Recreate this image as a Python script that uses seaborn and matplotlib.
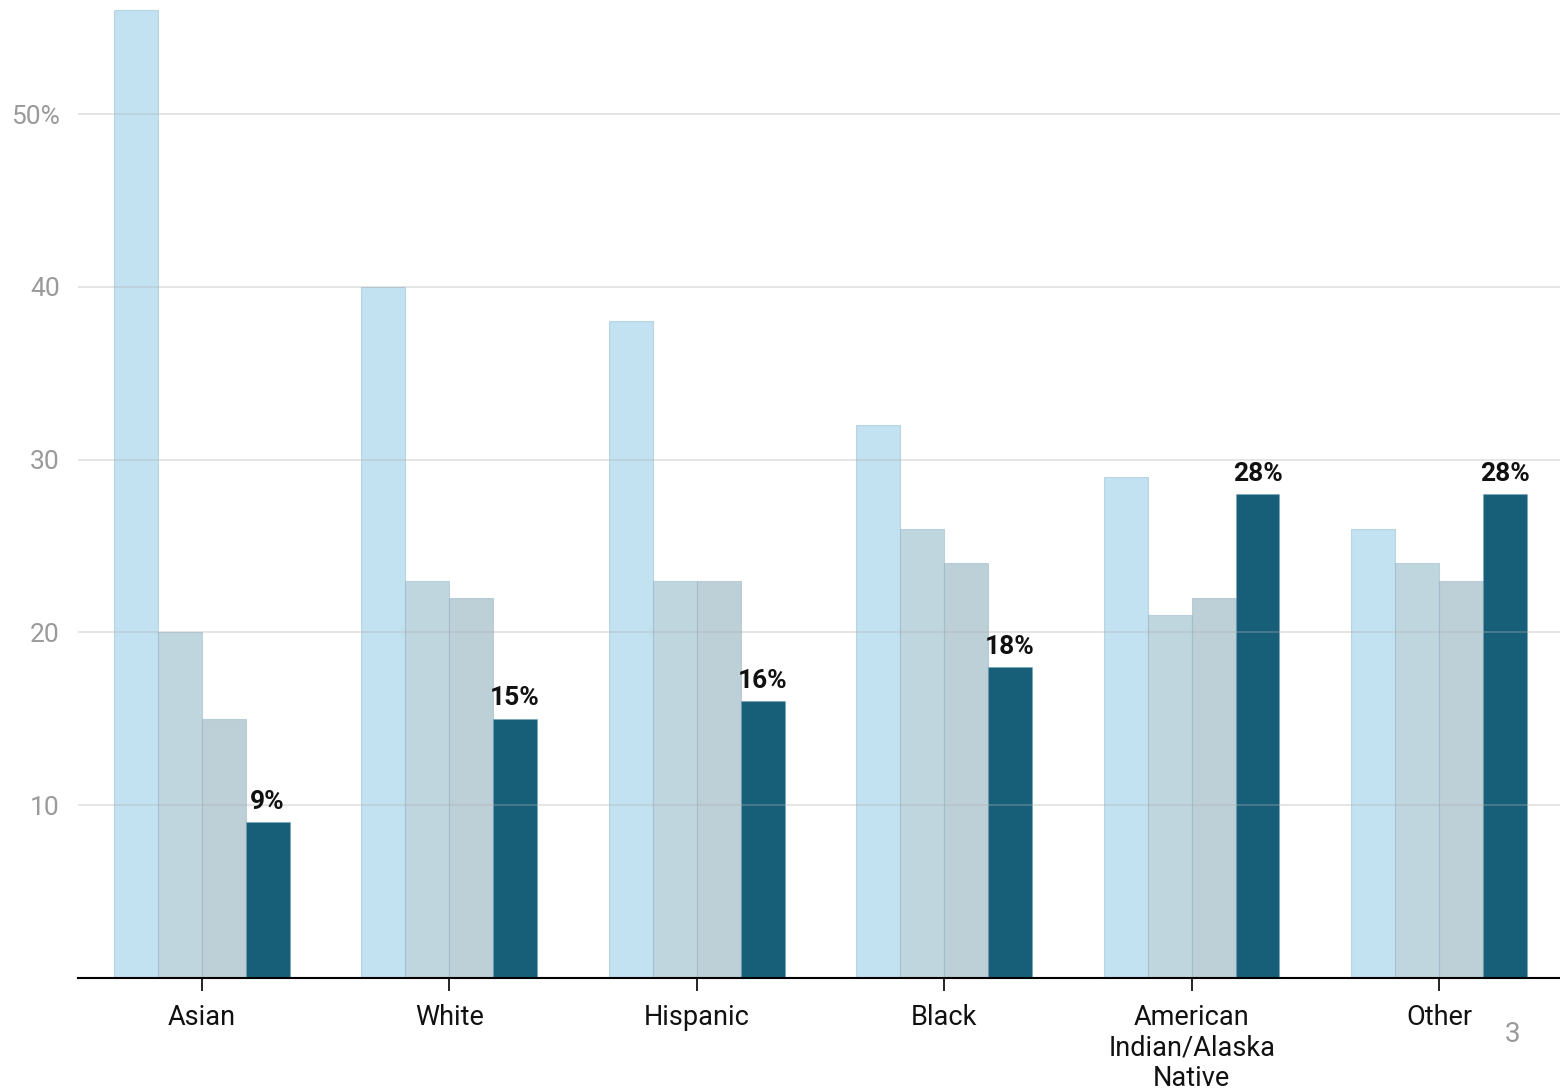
import numpy as np
import pandas as pd
import matplotlib
matplotlib.use('Agg')
import matplotlib.pyplot as plt
import seaborn as sns

# data
groups = ['Asian', 'White', 'Hispanic', 'Black',
          'American\nIndian/Alaska\nNative', 'Other']
series = ['s1', 's2', 's3', 's4']
s1 = [56, 40, 38, 32, 29, 26]
s2 = [20, 23, 23, 26, 21, 24]
s3 = [15, 22, 23, 24, 22, 23]
s4 = [9, 15, 16, 18, 28, 28]
yticks = [10, 20, 30, 40, 50]
ytick_labels = ['10', '20', '30', '40', '50%']
colors = ['#c2e2f2', '#c0d6df', '#bdcfd7', '#175f78']

df = pd.DataFrame({
    'group': np.repeat(groups, 4),
    'series': series * len(groups),
    'value': np.ravel(np.column_stack([s1, s2, s3, s4])),
})

sns.set_theme(style='white')
plt.rcParams['font.family'] = ['Roboto', 'DejaVu Sans']

fig = plt.figure(figsize=(15.6, 10.9), dpi=100)
ax = fig.add_axes([0.05, 0.1028, 0.955, 0.8972])

sns.barplot(data=df, x='group', y='value', hue='series', order=groups,
            hue_order=series, palette=colors, width=0.71, saturation=1,
            edgecolor=(0.45, 0.62, 0.72, 0.35), linewidth=0.8, legend=False, ax=ax)

ax.bar_label(ax.containers[3], fmt='%g%%', padding=6, fontsize=19,
             fontweight='bold', color='#111111')

ax.set_xlim(-0.5, 5.52)
ax.set_ylim(0, 56.6)
ax.set_yticks(yticks)
ax.set_yticklabels(ytick_labels, color='#9a9a9a', fontsize=19)
ax.tick_params(axis='y', length=0, pad=13)
ax.tick_params(axis='x', length=9, width=1.2, color='black', direction='out',
               bottom=True, labelsize=19.5, pad=10, labelcolor='#111111')
for lbl in ax.get_xticklabels():
    lbl.set_linespacing(1.15)
ax.set_xlabel('')
ax.set_ylabel('')

ax.yaxis.grid(True, color='#b0b0b0', alpha=0.35, linewidth=1.3)
ax.set_axisbelow(False)
for side in ['top', 'right', 'left']:
    ax.spines[side].set_visible(False)
ax.spines['bottom'].set_color('black')
ax.spines['bottom'].set_linewidth(1.5)
ax.spines['bottom'].set_zorder(5)

fig.text(1512 / 1560, 1 - 1035 / 1090, '3', color='#9a9a9a', fontsize=20,
         ha='center', va='center')

plt.savefig('out.png', dpi=100)
plt.close()
